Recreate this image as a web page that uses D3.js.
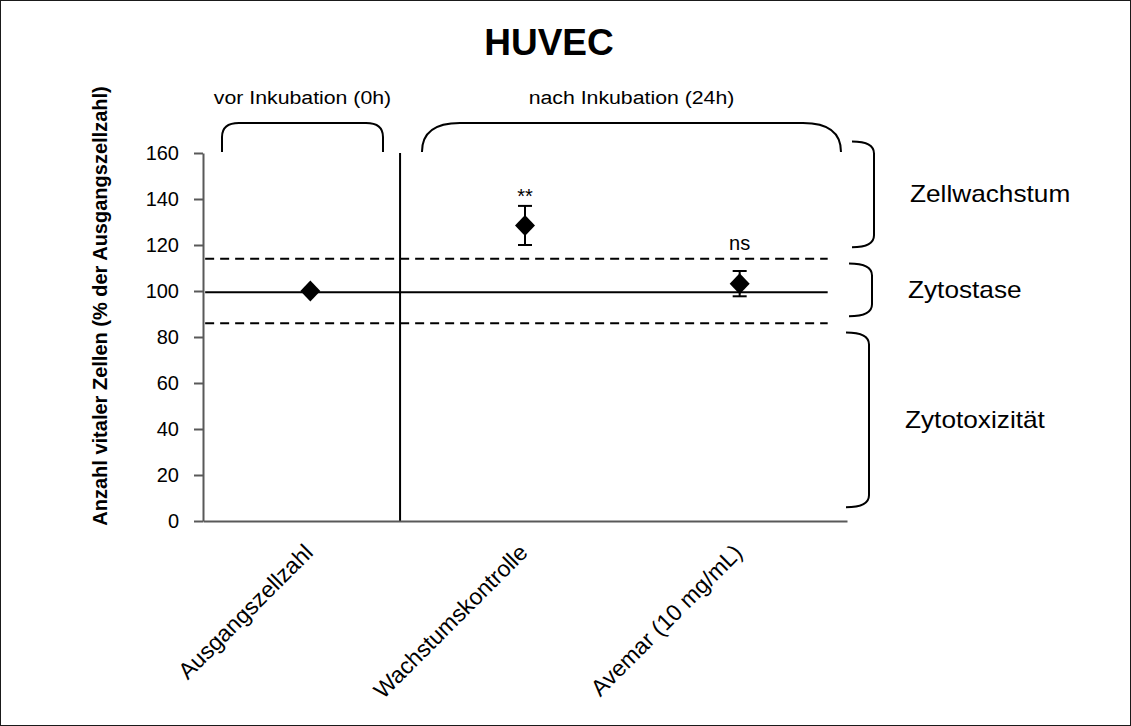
<!DOCTYPE html>
<html>
<head>
<meta charset="utf-8">
<script src="https://cdn.jsdelivr.net/npm/d3@7"></script>
<style>
  html, body { margin: 0; padding: 0; background: #fff; }
  svg { display: block; font-family: Arial, "Liberation Sans", sans-serif; }
</style>
</head>
<body>
<svg id="chart" width="1131" height="726"></svg>
<script>
// Groups on the x axis
const categories = ["Ausgangszellzahl", "Wachstumskontrolle", "Avemar (10 mg/mL)"];
// Mean number of viable cells, % of initial count
const means = [100, 128.5, 103.2];
// Error (± half-range) per group; the initial count has none
const errors = [0, 8.5, 5.5];
// Significance markers above each group
const significance = ["", "**", "ns"];
// y-axis ticks
const yTicks = [0, 20, 40, 60, 80, 100, 120, 140, 160];
// Reference levels: baseline and the ±14 % band around it
const refLevels = [99.5, 114, 86];
const refDashed = [false, true, true];
// Response zones on the right, as value ranges
const zoneNames = ["Zellwachstum", "Zytostase", "Zytotoxizität"];
const zoneLow = [119, 89, 6];
const zoneHigh = [165, 112, 82];
// Time-point headings
const phaseNames = ["vor Inkubation (0h)", "nach Inkubation (24h)"];

const svg = d3.select("#chart");
const W = 1131, H = 726;
const plot = { left: 203, right: 847, top: 153, bottom: 521 };

// page frame
svg.append("rect")
  .attr("x", 0.5).attr("y", 0.5).attr("width", W - 1).attr("height", H - 1)
  .attr("fill", "#fff").attr("stroke", "#1a1a1a").attr("stroke-width", 1);

const y = d3.scaleLinear().domain([0, 160]).range([plot.bottom, plot.top]);
const x = d3.scaleBand().domain(categories).range([plot.left, plot.right]).padding(0);
// continuous position in units of one category band, used for annotations
const xu = d3.scaleLinear().domain([0, categories.length]).range([plot.left, plot.right]);

// text drawn in a slightly widened text box
function wideText(px, py, str, size, sx, anchor) {
  return svg.append("text")
    .attr("transform", `translate(${px},${py}) scale(${sx},1)`)
    .attr("text-anchor", anchor)
    .attr("font-size", size)
    .text(str);
}

// title
svg.append("text")
  .attr("x", 549).attr("y", 55)
  .attr("text-anchor", "middle")
  .attr("font-size", 37).attr("font-weight", "bold")
  .text("HUVEC");

// y-axis title
svg.append("text")
  .attr("transform", "translate(107,306) rotate(-90)")
  .attr("text-anchor", "middle")
  .attr("font-size", 20).attr("font-weight", "bold")
  .text("Anzahl vitaler Zellen (% der Ausgangszellzahl)");

// reference lines
const refG = svg.append("g");
refLevels.forEach((v, i) => {
  refG.append("line")
    .attr("x1", xu(0.01)).attr("x2", xu(2.91))
    .attr("y1", y(v)).attr("y2", y(v))
    .attr("stroke", "#000").attr("stroke-width", 2)
    .attr("stroke-dasharray", refDashed[i] ? "9,6" : null);
});

// separator between the two time points
svg.append("line")
  .attr("x1", xu(0.918)).attr("x2", xu(0.918))
  .attr("y1", y(160)).attr("y2", y(0))
  .attr("stroke", "#000").attr("stroke-width", 2);

// y axis
const yAxis = svg.append("g")
  .attr("transform", `translate(${plot.left},0)`)
  .call(d3.axisLeft(y).tickValues(yTicks).tickSize(9).tickSizeOuter(0).tickPadding(15));
yAxis.select(".domain").attr("stroke", "#595959").attr("stroke-width", 2);
yAxis.selectAll(".tick line").attr("stroke", "#595959").attr("stroke-width", 2);
yAxis.selectAll(".tick text")
  .attr("font-size", 20).attr("fill", "#000")
  .attr("font-family", "Arial, 'Liberation Sans', sans-serif");

// x axis
const xAxis = svg.append("g")
  .attr("transform", `translate(0,${plot.bottom})`)
  .call(d3.axisBottom(x).tickSize(0).tickSizeOuter(0).tickFormat(""));
xAxis.select(".domain").attr("stroke", "#595959").attr("stroke-width", 2);

// rotated category labels
svg.append("g").selectAll("text")
  .data(categories)
  .join("text")
  .attr("transform", d => `translate(${x(d) + x.bandwidth() / 2 + 4},${plot.bottom + 33}) rotate(-45)`)
  .attr("text-anchor", "end")
  .attr("font-size", 23)
  .text(d => d);

// error bars
const errG = svg.append("g");
categories.forEach((c, i) => {
  if (!errors[i]) return;
  const cx = x(c) + x.bandwidth() / 2;
  const lo = y(means[i] - errors[i]), hi = y(means[i] + errors[i]);
  errG.append("line").attr("x1", cx).attr("x2", cx).attr("y1", lo).attr("y2", hi)
    .attr("stroke", "#000").attr("stroke-width", 2);
  [lo, hi].forEach(py => errG.append("line")
    .attr("x1", cx - 7).attr("x2", cx + 7).attr("y1", py).attr("y2", py)
    .attr("stroke", "#000").attr("stroke-width", 2));
});

// diamond markers
svg.append("g").selectAll("path")
  .data(categories)
  .join("path")
  .attr("transform", (d, i) => `translate(${x(d) + x.bandwidth() / 2},${y(means[i])})`)
  .attr("d", "M0,-10.5L10,0L0,10.5L-10,0Z")
  .attr("fill", "#000");

// significance markers
svg.append("g").selectAll("text")
  .data(categories)
  .join("text")
  .attr("x", d => x(d) + x.bandwidth() / 2)
  .attr("y", (d, i) => y(means[i] + errors[i]) - (significance[i] === "**" ? 3 : 21))
  .attr("text-anchor", "middle")
  .attr("font-size", 20)
  .text((d, i) => significance[i]);

// time-point brackets above the plot
const bTop = y(173), bBot = y(160.4);
const phaseSpan = [[0.0885, 0.8385], [1.02, 2.972]];
const phaseCurve = [17, 38];
phaseSpan.forEach((s, i) => {
  const x0 = xu(s[0]), x1 = xu(s[1]), rx = phaseCurve[i];
  const r = i === 0 ? 14 : bBot - bTop;
  const p = d3.path();
  p.moveTo(x0, bBot);
  p.lineTo(x0, bTop + r);
  p.quadraticCurveTo(x0, bTop, x0 + rx, bTop);
  p.lineTo(x1 - rx, bTop);
  p.quadraticCurveTo(x1, bTop, x1, bTop + r);
  p.lineTo(x1, bBot);
  svg.append("path").attr("d", p.toString())
    .attr("fill", "none").attr("stroke", "#000").attr("stroke-width", 2);
  wideText((x0 + x1) / 2, 104, phaseNames[i], 19, 1.12, "middle");
});

// zone brackets on the right
const zoneX = [[852, 874], [849, 872], [846, 869]];
zoneNames.forEach((name, i) => {
  const x0 = zoneX[i][0], x1 = zoneX[i][1];
  const yT = y(zoneHigh[i]), yB = y(zoneLow[i]), r = 12;
  const p = d3.path();
  p.moveTo(x0, yT);
  p.quadraticCurveTo(x1, yT, x1, yT + r);
  p.lineTo(x1, yB - r);
  p.quadraticCurveTo(x1, yB, x0, yB);
  svg.append("path").attr("d", p.toString())
    .attr("fill", "none").attr("stroke", "#000").attr("stroke-width", 2);
  wideText(x1 + 36, (yT + yB) / 2 + 8, name, 23, 1.14, "start");
});
</script>
</body>
</html>
